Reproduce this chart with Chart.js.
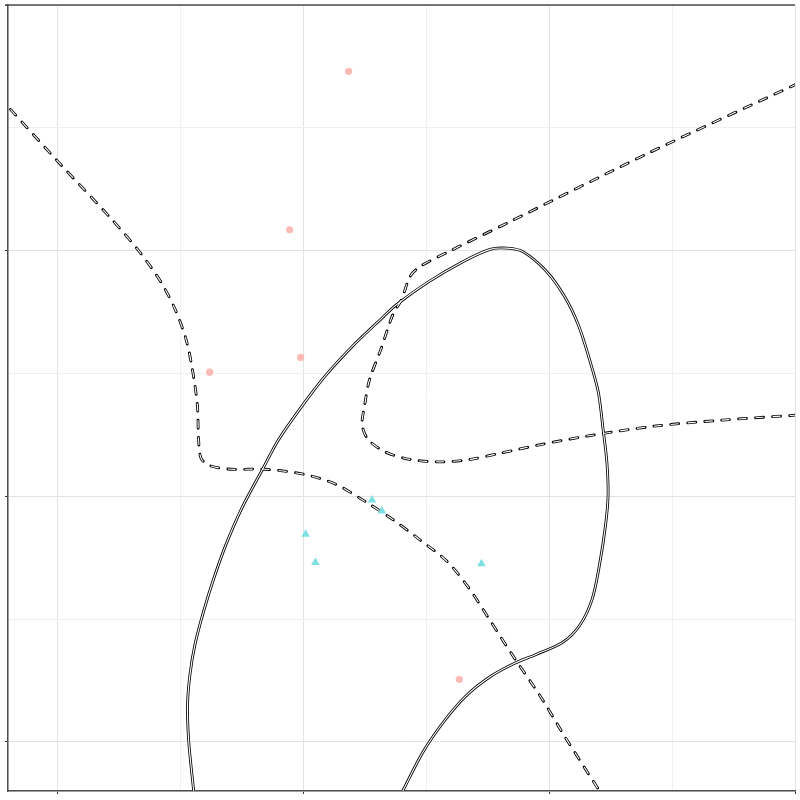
<!DOCTYPE html>
<html>
<head>
<meta charset="utf-8">
<script src="https://cdn.jsdelivr.net/npm/chart.js@4/dist/chart.umd.min.js"></script>
<style>body{margin:0;background:#fff}</style>
</head>
<body>
<canvas id="myChart" width="800" height="800"></canvas>
<script>
// punti rosa (cerchi) e azzurri (triangoli)
var pinkX = [2.37, 1.89, 1.98, 1.24, 3.27];
var pinkY = [5.46, 4.17, 3.13, 3.01, 0.51];
var cyanX = [2.56, 2.64, 2.02, 2.10, 3.45];
var cyanY = [1.97, 1.88, 1.69, 1.46, 1.45];

// curva continua
var solidX = [1.11,1.07,1.06,1.08,1.12,1.19,1.27,1.37,1.50,1.67,1.80,1.98,2.18,2.40,2.63,2.76,3.01,3.28,3.52,3.66,3.79,3.98,4.13,4.24,4.33,4.40,4.44,4.47,4.48,4.46,4.41,4.35,4.25,4.11,3.89,3.72,3.52,3.32,3.14,2.97,2.81];
var solidY = [-0.40,0.00,0.30,0.55,0.79,1.06,1.32,1.60,1.90,2.22,2.46,2.72,2.98,3.22,3.44,3.56,3.74,3.90,4.01,4.02,3.99,3.83,3.62,3.39,3.11,2.85,2.54,2.28,2.01,1.77,1.44,1.16,0.95,0.81,0.71,0.64,0.53,0.37,0.16,-0.09,-0.40];

// curve tratteggiate
var dash1X = [-0.38,0.02,0.43,0.67,0.84,0.96,1.05,1.10,1.14,1.15,1.17,1.24,1.41,1.69,2.00,2.26,2.50,2.73,2.93,3.17,3.35,3.50,3.72,3.93,4.13,4.41];
var dash1Y = [5.15,4.71,4.27,3.99,3.75,3.52,3.27,3.03,2.74,2.46,2.31,2.25,2.22,2.22,2.18,2.10,1.96,1.81,1.66,1.47,1.25,1.02,0.68,0.37,0.04,-0.40];
var dash2X = [6.02,4.82,3.67,3.18,2.95,2.87,2.80,2.73,2.63,2.54,2.50,2.48,2.53,2.67,2.87,3.11,3.36,3.60,3.93,4.31,4.85,5.41,6.00];
var dash2Y = [5.36,4.80,4.23,3.99,3.87,3.79,3.60,3.48,3.19,2.95,2.74,2.58,2.46,2.36,2.30,2.28,2.30,2.35,2.42,2.49,2.57,2.62,2.66];

function pts(xs, ys) {
  return xs.map(function(x, i){ return {x: x, y: ys[i]}; });
}

// ogni curva = linea nera spessa + linea bianca sottile sopra
function outline(xs, ys, dash) {
  var base = {
    data: pts(xs, ys), showLine: true, pointRadius: 0, tension: 0.3,
    borderDash: dash, fill: false
  };
  return [
    Object.assign({}, base, {borderColor: '#000', borderWidth: 2.8, order: 3, borderCapStyle: dash.length ? 'round' : 'butt'}),
    Object.assign({}, base, {borderColor: '#fff', borderWidth: 1.1, order: 2, borderCapStyle: 'butt'})
  ];
}

var topLine = {
  id: 'topLine',
  afterDraw: function(chart) {
    var a = chart.chartArea, c = chart.ctx;
    c.save();
    c.strokeStyle = '#4d4d4d';
    c.lineWidth = 1.5;
    c.beginPath();
    c.moveTo(a.left - 3, a.top);
    c.lineTo(a.right, a.top);
    c.stroke();
    c.restore();
  }
};

var datasets = []
  .concat(outline(solidX, solidY, []))
  .concat(outline(dash1X, dash1Y, [8, 9]))
  .concat(outline(dash2X, dash2Y, [8, 9]));

datasets.push({
  data: pts(pinkX, pinkY), pointStyle: 'circle', pointRadius: 3.6,
  backgroundColor: '#fcbab6', borderWidth: 0, order: 0
});
datasets.push({
  data: pts(cyanX, cyanY), pointStyle: 'triangle', pointRadius: 5,
  backgroundColor: '#80dfe2', borderWidth: 0, order: 0
});

function gridOpts() {
  return {
    color: function(c){ return (c.tick && c.tick.value % 2 === 0) ? '#e2e2e2' : '#f0f0f0'; },
    tickColor: function(c){ return (c.tick && c.tick.value % 2 === 0) ? '#333' : 'rgba(0,0,0,0)'; },
    tickLength: 3,
    lineWidth: 1
  };
}

var ctx = document.getElementById('myChart').getContext('2d');
var myChart = new Chart(ctx, {
  type: 'scatter',
  data: { datasets: datasets },
  options: {
    responsive: false,
    animation: false,
    layout: { padding: { top: 5, right: 5, left: 0, bottom: 0 } },
    plugins: { legend: { display: false }, tooltip: { enabled: false } },
    scales: {
      x: {
        type: 'linear', min: -0.4, max: 6.0,
        ticks: { display: false, stepSize: 1 },
        grid: gridOpts(),
        border: { color: '#4d4d4d', width: 1.5 },
        afterFit: function(s){ s.height = 9; }
      },
      y: {
        type: 'linear', min: -0.4, max: 6.0,
        ticks: { display: false, stepSize: 1 },
        grid: gridOpts(),
        border: { color: '#4d4d4d', width: 1.5 },
        afterFit: function(s){ s.width = 8; }
      }
    }
  },
  plugins: [topLine]
});
</script>
</body>
</html>
